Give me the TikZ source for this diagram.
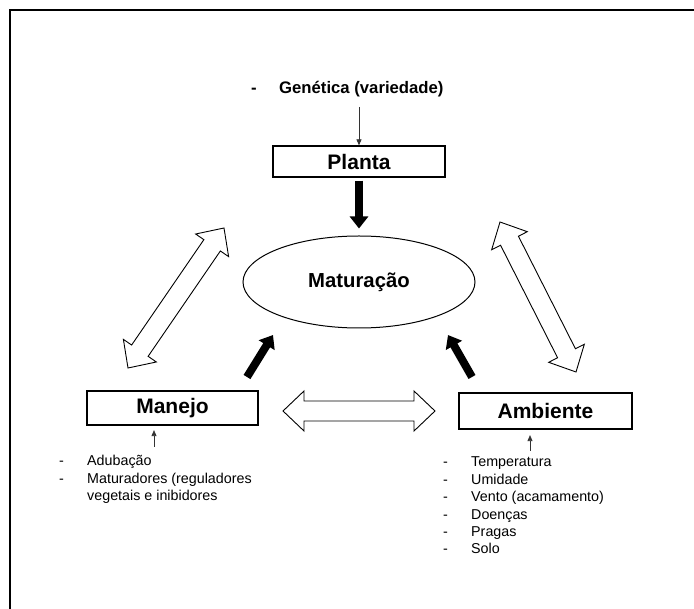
\documentclass[tikz,border=0pt]{standalone}
\usepackage{fontspec}
\setmainfont{Liberation Sans}
\usetikzlibrary{arrows.meta,calc,shapes.geometric}
\newcommand{\hollowdbl}[2]{%
\draw[hollowarrow] (#1)
 -- ($(#1)!21pt!(#2)!20pt!90:(#2)$)
 -- ($(#1)!21pt!(#2)!10pt!90:(#2)$)
 -- ($(#2)!21pt!(#1)!10pt!-90:(#1)$)
 -- ($(#2)!21pt!(#1)!20pt!-90:(#1)$)
 -- (#2)
 -- ($(#2)!21pt!(#1)!20pt!90:(#1)$)
 -- ($(#2)!21pt!(#1)!10pt!90:(#1)$)
 -- ($(#1)!21pt!(#2)!10pt!-90:(#2)$)
 -- ($(#1)!21pt!(#2)!20pt!-90:(#2)$)
 -- cycle;}
\tikzset{
  boxnode/.style={draw=black, line width=1.2pt, rectangle, inner sep=0pt,
    font=\fontsize{21}{25}\selectfont\bfseries},
  ellnode/.style={draw=black, line width=1pt, ellipse, inner sep=0pt,
    minimum width=232pt, minimum height=92pt,
    font=\fontsize{20.3}{24}\selectfont\bfseries},
  hollowarrow/.style={draw=black, line width=0.9pt, fill=white, line join=miter},
  blkarrow/.style={line width=8pt, -{Triangle[length=12pt,width=18pt]}},
  thinarrow/.style={line width=0.7pt, black!80, -{Triangle[length=6pt,width=5pt]}},
  listline/.style={anchor=base west, inner sep=0pt, font=\fontsize{14.3}{17}\selectfont},
}
\begin{document}
\begin{tikzpicture}[x=1pt,y=-1pt]
\useasboundingbox (0,0) rectangle (694,609);
% frame
\draw[line width=1.2pt] (694,10) -- (10,10) -- (10,609);

% top label
\node[anchor=base west, inner sep=0pt, font=\fontsize{16.7}{20}\selectfont\bfseries]
  (gen) at (251,94) {\makebox[28pt][l]{-}Genética (variedade)};

% main nodes
\node[boxnode, minimum width=172pt, minimum height=31pt] (planta) at (359,161.5) {Planta};
\node[ellnode] (mat) at (359,282) {Maturação};
\node[boxnode, minimum width=171pt, minimum height=34pt] (manejo) at (172.5,408) {Manejo};
\node[boxnode, minimum width=173pt, minimum height=36pt] (ambiente) at (545.5,411) {Ambiente};

% thin arrows
\coordinate (gtail) at (359,107);
\draw[thinarrow] (gtail) -- (planta.north);
\coordinate (mtail) at (154,447);
\draw[thinarrow, shorten >=4.5pt] (mtail) -- (manejo.south -| mtail);
\coordinate (atail) at (530,451);
\draw[thinarrow, shorten >=5.5pt] (atail) -- (ambiente.south -| atail);

% black arrows
\draw[blkarrow, shorten <=3pt, shorten >=7pt] (planta.south) -- (mat.north);
\coordinate (ml1) at (247,377);
\coordinate (ml2) at (273,335);
\draw[blkarrow] (ml1) -- (ml2);
\coordinate (ar1) at (472,377);
\coordinate (ar2) at (448,335);
\draw[blkarrow] (ar1) -- (ar2);

% hollow double arrows
\coordinate (hl1) at (283,411);
\coordinate (hl2) at (435,411);
\hollowdbl{hl1}{hl2}
\coordinate (dl1) at (224,228);
\coordinate (dl2) at (128,368);
\hollowdbl{dl1}{dl2}
\coordinate (dr1) at (500,222);
\coordinate (dr2) at (576,372);
\hollowdbl{dr1}{dr2}

% Manejo list
\node[listline] (m1) at (59,466) {\makebox[28pt][l]{-}Adubação};
\node[listline] (m2) at (59,483.4) {\makebox[28pt][l]{-}Maturadores (reguladores};
\node[listline] (m3) at (59,500.8) {\makebox[28pt][l]{}vegetais e inibidores};

% Ambiente list
\node[listline] (a1) at (443,467) {\makebox[28pt][l]{-}Temperatura};
\node[listline] (a2) at (443,484.4) {\makebox[28pt][l]{-}Umidade};
\node[listline] (a3) at (443,501.8) {\makebox[28pt][l]{-}Vento (acamamento)};
\node[listline] (a4) at (443,519.2) {\makebox[28pt][l]{-}Doenças};
\node[listline] (a5) at (443,536.6) {\makebox[28pt][l]{-}Pragas};
\node[listline] (a6) at (443,554) {\makebox[28pt][l]{-}Solo};
\end{tikzpicture}
\end{document}
